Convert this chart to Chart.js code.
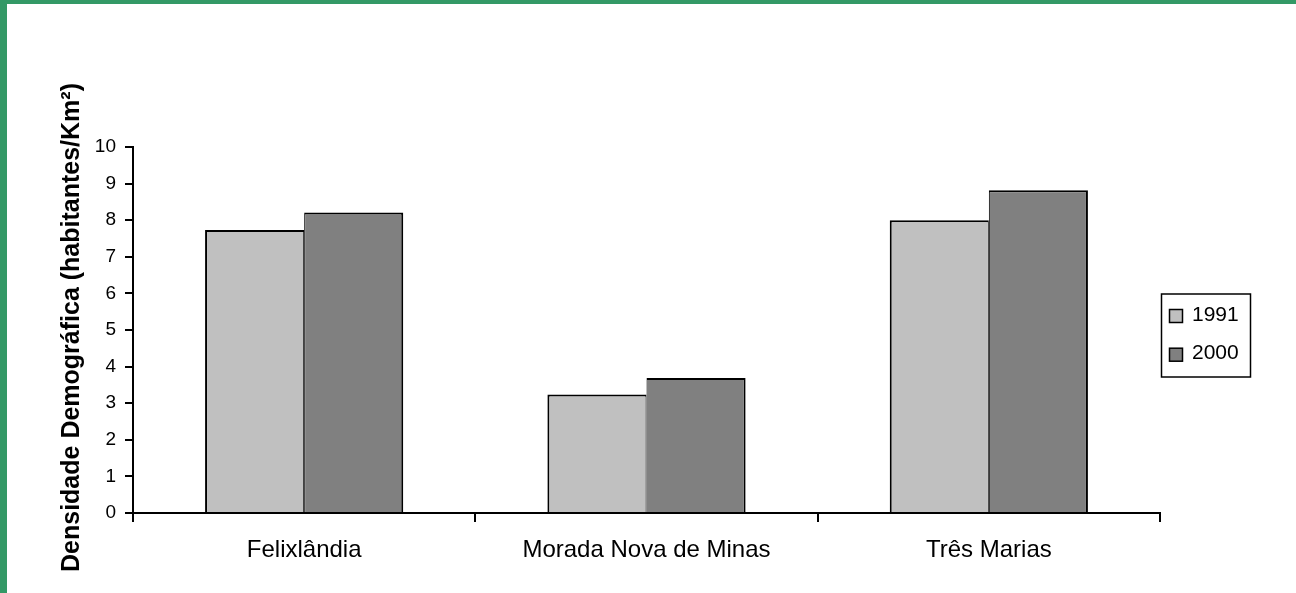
<!DOCTYPE html>
<html>
<head>
<meta charset="utf-8">
<script src="https://cdn.jsdelivr.net/npm/chart.js@4/dist/chart.umd.min.js"></script>
<style>
  html, body { margin: 0; padding: 0; background: #fff; }
  #c { display: block; }
</style>
</head>
<body>
<canvas id="c" width="1296" height="593"></canvas>
<script>
const categories = ['Felixlândia', 'Morada Nova de Minas', 'Três Marias'];
const seriesLabels = ['1991', '2000'];
const values1991 = [7.73, 3.24, 8.0];
const values2000 = [8.21, 3.69, 8.82];
const yTicks = [0, 1, 2, 3, 4, 5, 6, 7, 8, 9, 10];
const yTitle = 'Densidade Demográfica (habitantes/Km²)';
const colors = ['#c0c0c0', '#808080'];

Chart.defaults.font.family = '"Liberation Sans", Arial, sans-serif';
Chart.defaults.color = '#000';

const framePlugin = {
  id: 'frame',
  beforeDraw(chart) {
    const ctx = chart.ctx;
    ctx.save();
    ctx.fillStyle = '#fff';
    ctx.fillRect(0, 0, chart.width, chart.height);
    ctx.fillStyle = '#339966';
    ctx.fillRect(0, 0, chart.width, 4);
    ctx.fillRect(0, 0, 7, chart.height);
    ctx.restore();
  }
};

const titlePlugin = {
  id: 'yTitle',
  afterDraw(chart) {
    const ctx = chart.ctx;
    const a = chart.chartArea;
    ctx.save();
    ctx.translate(72.5, (a.top + a.bottom) / 2 - 2.5);
    ctx.rotate(-Math.PI / 2);
    ctx.font = 'bold 25px "Liberation Sans", Arial, sans-serif';
    ctx.fillStyle = '#000';
    ctx.textAlign = 'center';
    ctx.textBaseline = 'middle';
    ctx.fillText(yTitle, 0, 0);
    ctx.restore();
  }
};

const legendPlugin = {
  id: 'boxLegend',
  afterDraw(chart) {
    const ctx = chart.ctx;
    const a = chart.chartArea;
    const mid = (a.top + a.bottom) / 2 + 5.5;
    const left = a.right + 1.5;
    const w = 89, h = 83;
    ctx.save();
    ctx.strokeStyle = '#000';
    ctx.lineWidth = 1.5;
    ctx.strokeRect(left, mid - h / 2, w, h);
    const offsets = [-19.5, 19.2];
    chart.data.datasets.forEach((ds, i) => {
      const cy = mid + offsets[i];
      ctx.fillStyle = ds.backgroundColor;
      ctx.fillRect(left + 8, cy - 6.5, 13, 13);
      ctx.lineWidth = 1.5;
      ctx.strokeRect(left + 8, cy - 6.5, 13, 13);
      ctx.fillStyle = '#000';
      ctx.font = '21px "Liberation Sans", Arial, sans-serif';
      ctx.textAlign = 'left';
      ctx.textBaseline = 'middle';
      ctx.fillText(ds.label, left + 30.5, cy - 1);
    });
    ctx.restore();
  }
};

new Chart(document.getElementById('c'), {
  type: 'bar',
  data: {
    labels: categories,
    datasets: [
      {
        label: seriesLabels[0],
        data: values1991,
        backgroundColor: colors[0],
        borderColor: '#000',
        borderWidth: { top: 2, left: 2, right: 1, bottom: 0 },
        borderSkipped: false
      },
      {
        label: seriesLabels[1],
        data: values2000,
        backgroundColor: colors[1],
        borderColor: '#000',
        borderWidth: { top: 2, left: 1, right: 2, bottom: 0 },
        borderSkipped: false
      }
    ]
  },
  options: {
    responsive: false,
    animation: false,
    devicePixelRatio: 1,
    layout: { padding: { top: 147, right: 136, bottom: 0, left: 0 } },
    datasets: { bar: { categoryPercentage: 0.579, barPercentage: 1.0 } },
    plugins: {
      legend: { display: false },
      tooltip: { enabled: false }
    },
    scales: {
      x: {
        grid: { display: true, drawOnChartArea: false, drawTicks: true, tickLength: 9, color: '#000', lineWidth: 2, offset: true },
        border: { display: true, color: '#000', width: 2 },
        ticks: { font: { size: 24 }, color: '#000', padding: 14 },
        afterFit(scale) { scale.height = 80; }
      },
      y: {
        min: 0,
        max: 10,
        afterBuildTicks(scale) { scale.ticks = yTicks.map(v => ({ value: v })); },
        grid: { display: true, drawOnChartArea: false, drawTicks: true, tickLength: 8, color: '#000', lineWidth: 2 },
        border: { display: true, color: '#000', width: 2 },
        ticks: { font: { size: 19 }, color: '#000', padding: 9 },
        title: { display: false },
        afterFit(scale) { scale.width = 133; }
      }
    }
  },
  plugins: [framePlugin, titlePlugin, legendPlugin]
});
</script>
</body>
</html>
